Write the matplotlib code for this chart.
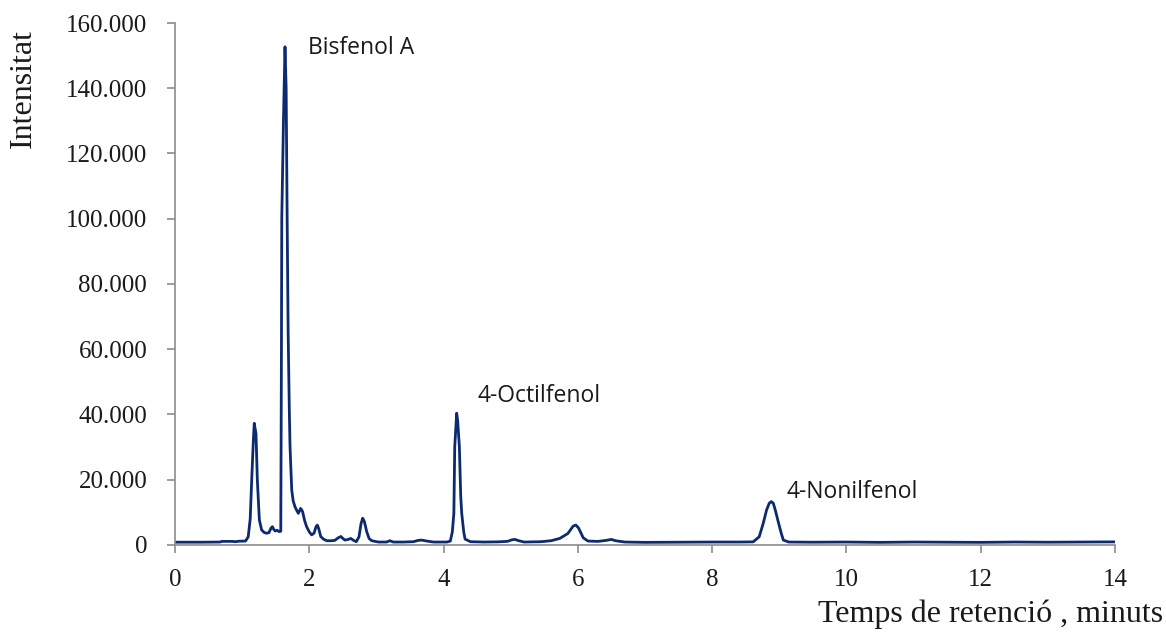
import matplotlib.pyplot as plt
from matplotlib.ticker import FuncFormatter, MultipleLocator

# retention time (min) and intensity
temps = [0.00, 0.40, 0.67, 0.70, 0.85, 0.90, 0.95, 1.05, 1.09, 1.12,
         1.142, 1.167, 1.18, 1.19, 1.206, 1.226, 1.256, 1.29, 1.33, 1.365,
         1.40, 1.43, 1.45, 1.47, 1.49, 1.52, 1.55, 1.575, 1.585, 1.59,
         1.615, 1.638, 1.655, 1.67, 1.685, 1.703, 1.713, 1.738, 1.76, 1.787,
         1.815, 1.837, 1.87, 1.885, 1.90, 1.93, 1.96, 2.00, 2.035, 2.07,
         2.10, 2.12, 2.14, 2.17, 2.21, 2.26, 2.32, 2.38, 2.43, 2.47,
         2.50, 2.53, 2.58, 2.617, 2.66, 2.70, 2.74, 2.77, 2.795, 2.82,
         2.855, 2.89, 2.93, 3.03, 3.15, 3.20, 3.25, 3.40, 3.55, 3.62,
         3.67, 3.75, 3.85, 4.05, 4.10, 4.13, 4.153, 4.166, 4.195, 4.21,
         4.235, 4.255, 4.27, 4.30, 4.32, 4.40, 4.60, 4.80, 4.95, 5.02,
         5.06, 5.12, 5.20, 5.45, 5.60, 5.73, 5.85, 5.93, 5.97, 6.01,
         6.08, 6.15, 6.30, 6.42, 6.50, 6.56, 6.70, 7.00, 7.50, 8.00,
         8.40, 8.61, 8.70, 8.76, 8.81, 8.85, 8.88, 8.91, 8.94, 8.99,
         9.03, 9.06, 9.14, 9.50, 10.0, 10.5, 11.0, 11.5, 12.0, 12.5,
         13.0, 13.5, 14.0]
intensitat = [850, 850, 900, 1100, 1100, 1000, 1150, 1200, 2500, 8000,
              19900, 32200, 37300, 36000, 34200, 19900, 7700, 4600, 3800, 3600,
              3800, 5200, 5600, 4800, 4300, 4500, 4100, 4200, 60000, 100000,
              130000, 152700, 140000, 100000, 65000, 40400, 30100, 16900, 13500, 11700,
              10500, 9700, 11200, 10800, 10200, 7500, 5600, 4000, 3100, 3600,
              5600, 6100, 5000, 2600, 1800, 1300, 1300, 1400, 2200, 2600,
              2000, 1500, 1700, 2000, 1400, 1000, 2500, 6500, 8200, 7200,
              4100, 2000, 1300, 900, 900, 1300, 900, 900, 1000, 1400,
              1500, 1200, 900, 900, 1200, 4000, 9700, 30100, 40400, 38000,
              30100, 15000, 9700, 4000, 1800, 1000, 900, 950, 1100, 1600,
              1700, 1300, 900, 1000, 1300, 2000, 3500, 5800, 6100, 5200,
              2200, 1200, 1100, 1400, 1700, 1300, 900, 800, 850, 900,
              900, 950, 2500, 6600, 10700, 12800, 13300, 12800, 10700, 6600,
              3500, 1500, 900, 850, 900, 800, 900, 850, 800, 900,
              850, 900, 950]

pics = ["Bisfenol A", "4-Octilfenol", "4-Nonilfenol"]
pics_pos = [(1.98, 152300), (4.51, 45700), (9.10, 16200)]

serif = ["Liberation Serif", "DejaVu Serif"]
gris = "#8c8c8c"

fig = plt.figure(figsize=(11.66, 6.32), dpi=100)
ax = fig.add_axes([0.1501, 0.1377, 0.8062, 0.8259])

ax.plot(temps, intensitat, color="#0b2a6f", lw=2.0, solid_joinstyle="round")

ax.set_xlim(0, 14)
ax.set_ylim(0, 160000)
ax.xaxis.set_major_locator(MultipleLocator(2))
ax.yaxis.set_major_locator(MultipleLocator(20000))

def fmt_miles(v, pos):
    v = int(round(v))
    if v == 0:
        return "0"
    return "{:,}".format(v).replace(",", ".")

ax.yaxis.set_major_formatter(FuncFormatter(fmt_miles))

for s in ["top", "right"]:
    ax.spines[s].set_visible(False)
for s in ["left", "bottom"]:
    ax.spines[s].set_color(gris)
    ax.spines[s].set_linewidth(1.2)

ax.tick_params(axis="y", direction="out", length=6, width=1.2, color=gris, pad=14)
ax.tick_params(axis="x", direction="out", length=6, width=1.2, color=gris, pad=11)
for lab in ax.get_xticklabels() + ax.get_yticklabels():
    lab.set_family(serif)
    lab.set_fontsize(18)
    lab.set_color("#1a1a1a")

for nom, (x, y) in zip(pics, pics_pos):
    ax.text(x, y, nom, fontsize=16.5, family=["Open Sans", "DejaVu Sans"],
            color="#1a1a1a", ha="left", va="center")

fig.text(23 / 1166, 1 - 88 / 632, "Intensitat", rotation=90, fontsize=23,
         family=serif, ha="center", va="center", color="#1a1a1a")
fig.text(1163 / 1166, 1 - 614 / 632, "Temps de retenció , minuts", fontsize=23,
         family=serif, ha="right", va="center", color="#1a1a1a")

fig.savefig("out.png", dpi=100)
